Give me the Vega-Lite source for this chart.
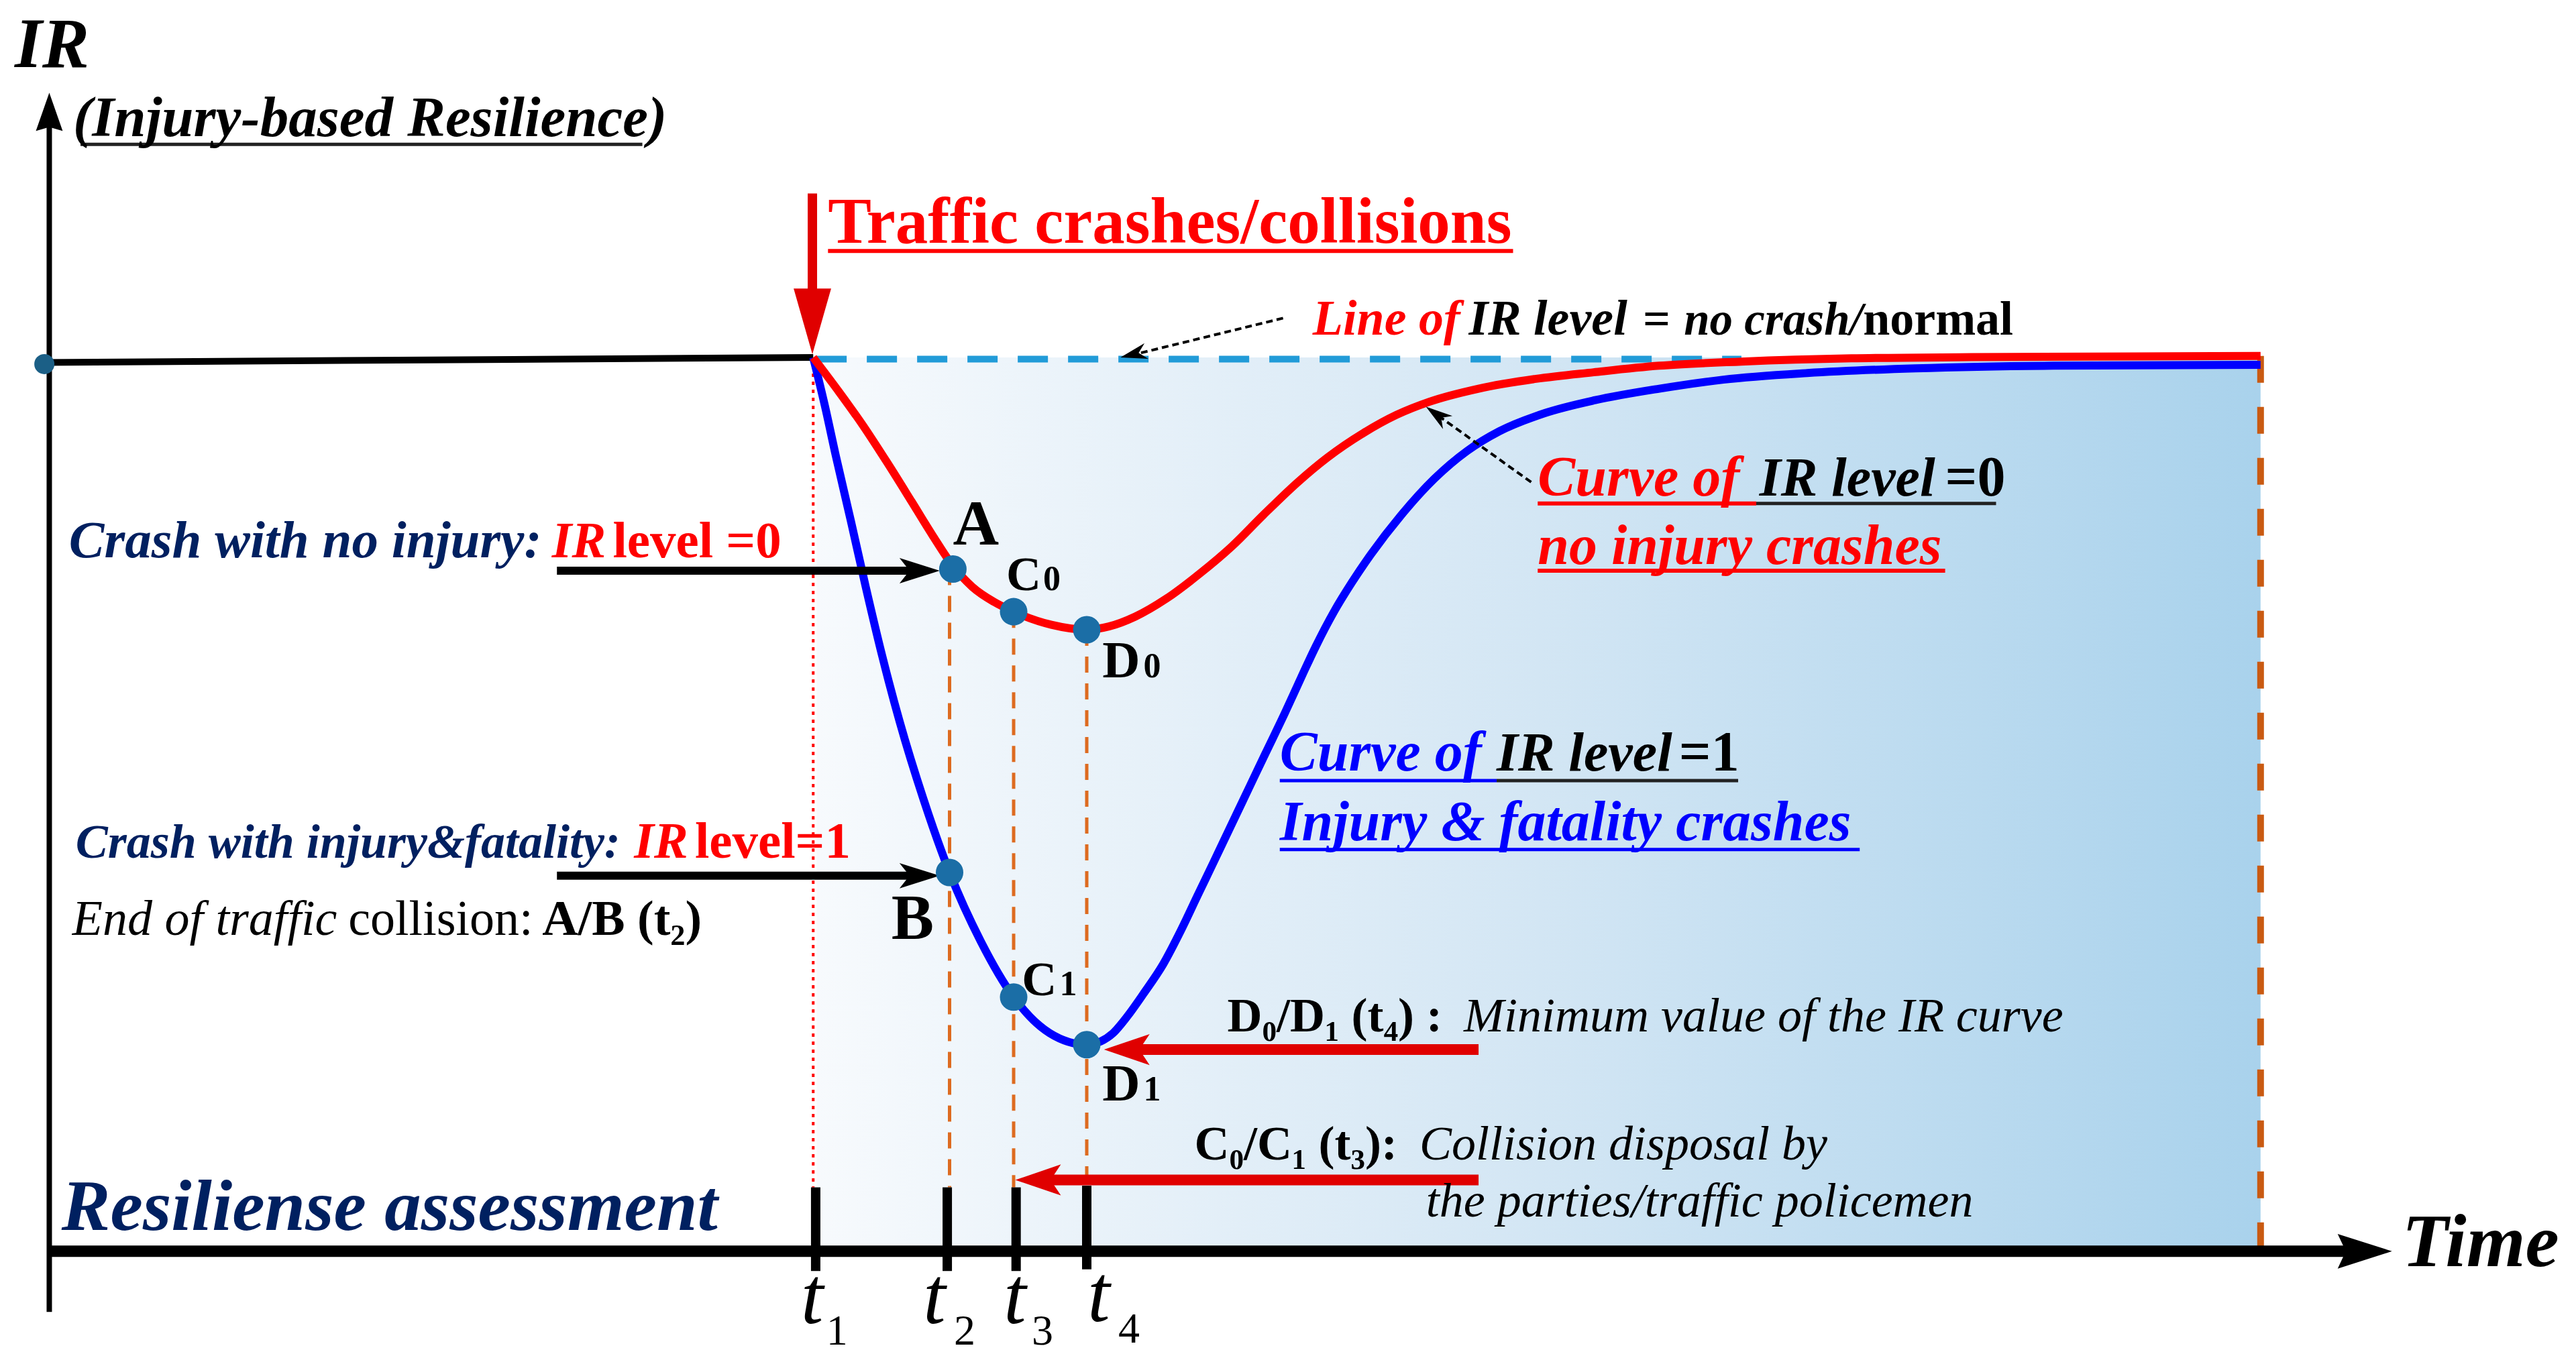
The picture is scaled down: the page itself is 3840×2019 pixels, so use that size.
{
  "$schema": "https://vega.github.io/schema/vega-lite/v6.json",
  "width": 3840,
  "height": 2019,
  "autosize": {"type": "fit", "contains": "padding"},
  "padding": 0,
  "background": "white",
  "config": {"view": {"stroke": null}},
  "encoding": {
    "x": {"field": "x", "type": "quantitative", "axis": null, "scale": {"domain": [0, 1568], "nice": false, "zero": false}},
    "y": {"field": "y", "type": "quantitative", "axis": null, "scale": {"domain": [0, 824], "nice": false, "zero": false, "reverse": true}}
  },
  "layer": [
    {"data": {"values": [{"x": 497, "x2": 1376, "y": 218, "y2": 763}]},
     "mark": {"type": "rect", "color": {"gradient": "linear", "x1": 0, "x2": 1, "y1": 0, "y2": 0, "stops": [{"offset": 0, "color": "#f7fafd"}, {"offset": 0.5, "color": "#d3e6f4"}, {"offset": 1, "color": "#a9d2ec"}]}},
     "encoding": {"x2": {"field": "x2"}, "y2": {"field": "y2"}}},
    {"data": {"values": [{"x": 497, "y": 219, "x2": 1060, "y2": 219}]},
     "mark": {"type": "rule", "color": "#219bd8", "strokeWidth": 10, "strokeDash": [45, 30]},
     "encoding": {"x2": {"field": "x2"}, "y2": {"field": "y2"}}},
    {"data": {"values": [{"x": 495, "y": 218, "x2": 495, "y2": 724}]},
     "mark": {"type": "rule", "color": "#ff0000", "strokeWidth": 4, "strokeDash": [5, 7]},
     "encoding": {"x2": {"field": "x2"}, "y2": {"field": "y2"}}},
    {"data": {"values": [{"x": 578, "y": 347, "x2": 578, "y2": 724}, {"x": 617, "y": 373, "x2": 617, "y2": 724}, {"x": 661.5, "y": 384, "x2": 661.5, "y2": 724}]},
     "mark": {"type": "rule", "color": "#dd6b20", "strokeWidth": 5, "strokeDash": [24, 16]},
     "encoding": {"x2": {"field": "x2"}, "y2": {"field": "y2"}}},
    {"data": {"values": [{"x": 1376, "y": 217, "x2": 1376, "y2": 763}]},
     "mark": {"type": "rule", "color": "#c95a12", "strokeWidth": 10, "strokeDash": [40, 36]},
     "encoding": {"x2": {"field": "x2"}, "y2": {"field": "y2"}}},
    {"data": {"values": [{"x": 27, "y": 221, "x2": 495, "y2": 218}]},
     "mark": {"type": "rule", "color": "#000000", "strokeWidth": 10},
     "encoding": {"x2": {"field": "x2"}, "y2": {"field": "y2"}}},
    {"data": {"values": [{"x": 30, "y": 800, "x2": 30, "y2": 75}]},
     "mark": {"type": "rule", "color": "#000000", "strokeWidth": 8},
     "encoding": {"x2": {"field": "x2"}, "y2": {"field": "y2"}}},
    {"data": {"values": [{"x": 30, "y": 763, "x2": 1440, "y2": 763}]},
     "mark": {"type": "rule", "color": "#000000", "strokeWidth": 17},
     "encoding": {"x2": {"field": "x2"}, "y2": {"field": "y2"}}},
    {"data": {"values": [{"x": 496.5, "y": 724, "x2": 496.5, "y2": 775}, {"x": 576.6, "y": 724, "x2": 576.6, "y2": 775}, {"x": 618.5, "y": 724, "x2": 618.5, "y2": 775}, {"x": 661.5, "y": 723, "x2": 661.5, "y2": 774}]},
     "mark": {"type": "rule", "color": "#000000", "strokeWidth": 14},
     "encoding": {"x2": {"field": "x2"}, "y2": {"field": "y2"}}},
    {"data": {"values": [
      {"x": 495, "y": 218}, {"x": 502, "y": 247}, {"x": 509, "y": 279}, {"x": 518, "y": 318}, {"x": 527, "y": 358}, {"x": 537, "y": 400}, {"x": 547.6, "y": 440}, {"x": 562, "y": 487}, {"x": 578, "y": 532}, {"x": 597, "y": 574}, {"x": 617, "y": 608}, {"x": 639, "y": 630}, {"x": 661.5, "y": 637}, {"x": 670, "y": 635}, {"x": 677.5, "y": 630}, {"x": 686, "y": 620}, {"x": 696, "y": 606}, {"x": 708, "y": 588}, {"x": 719, "y": 567}, {"x": 729, "y": 546}, {"x": 738.6, "y": 526}, {"x": 750, "y": 502}, {"x": 760, "y": 481}, {"x": 770, "y": 460}, {"x": 782, "y": 435}, {"x": 793, "y": 411}, {"x": 801, "y": 394}, {"x": 812, "y": 373}, {"x": 823, "y": 355}, {"x": 834.5, "y": 338}, {"x": 853, "y": 314}, {"x": 873, "y": 292}, {"x": 893, "y": 275}, {"x": 912.6, "y": 263}, {"x": 940, "y": 252}, {"x": 971, "y": 244}, {"x": 1010, "y": 237}, {"x": 1049, "y": 231.5}, {"x": 1100, "y": 227.5}, {"x": 1166, "y": 224.6}, {"x": 1250, "y": 223}, {"x": 1376, "y": 222.5}]},
     "mark": {"type": "line", "color": "#0000ff", "strokeWidth": 12, "interpolate": "monotone"}},
    {"data": {"values": [
      {"x": 495, "y": 218}, {"x": 510, "y": 238}, {"x": 525, "y": 259}, {"x": 540, "y": 282}, {"x": 555, "y": 306}, {"x": 568, "y": 327}, {"x": 580, "y": 345}, {"x": 592, "y": 358}, {"x": 605, "y": 367}, {"x": 617, "y": 373}, {"x": 640, "y": 381}, {"x": 661.5, "y": 384}, {"x": 675, "y": 382}, {"x": 691, "y": 376}, {"x": 710, "y": 365}, {"x": 730, "y": 350}, {"x": 750, "y": 333}, {"x": 769, "y": 314}, {"x": 790, "y": 294}, {"x": 808, "y": 279}, {"x": 830, "y": 264}, {"x": 850, "y": 253}, {"x": 870, "y": 245}, {"x": 900, "y": 237}, {"x": 935, "y": 231}, {"x": 970, "y": 227}, {"x": 1010, "y": 223}, {"x": 1060, "y": 220.5}, {"x": 1127, "y": 218.5}, {"x": 1200, "y": 217.8}, {"x": 1300, "y": 217.3}, {"x": 1376, "y": 217}]},
     "mark": {"type": "line", "color": "#ff0000", "strokeWidth": 12, "interpolate": "monotone"}},
    {"data": {"values": [{"x": 339, "y": 348, "x2": 562, "y2": 348}, {"x": 339, "y": 534, "x2": 562, "y2": 534}]},
     "mark": {"type": "rule", "color": "#000000", "strokeWidth": 12},
     "encoding": {"x2": {"field": "x2"}, "y2": {"field": "y2"}}},
    {"data": {"values": [{"x": 572, "y": 348}, {"x": 572, "y": 534}]},
     "mark": {"type": "point", "filled": true, "color": "#000000", "opacity": 1, "strokeWidth": 0, "size": 3600, "shape": "M 0 0 L -2 -0.63 L -1.5 0 L -2 0.63 Z"}},
    {"data": {"values": [{"x": 682, "y": 640, "x2": 900, "y2": 640}, {"x": 628, "y": 719.5, "x2": 900, "y2": 719.5}]},
     "mark": {"type": "rule", "color": "#e00000", "strokeWidth": 16},
     "encoding": {"x2": {"field": "x2"}, "y2": {"field": "y2"}}},
    {"data": {"values": [{"x": 672, "y": 640}, {"x": 618, "y": 719.5}]},
     "mark": {"type": "point", "filled": true, "color": "#e00000", "opacity": 1, "strokeWidth": 0, "size": 4624, "angle": 180, "shape": "M 0 0 L -2 -0.68 L -1.55 0 L -2 0.68 Z"}},
    {"data": {"values": [{"x": 494.5, "y": 118, "x2": 494.5, "y2": 185}]},
     "mark": {"type": "rule", "color": "#e00000", "strokeWidth": 14},
     "encoding": {"x2": {"field": "x2"}, "y2": {"field": "y2"}}},
    {"data": {"values": [{"x": 494.5, "y": 216}]},
     "mark": {"type": "point", "filled": true, "color": "#e00000", "opacity": 1, "strokeWidth": 0, "size": 9604, "angle": 90, "shape": "M 0 0 L -2 -0.57 L -2 0.57 Z"}},
    {"data": {"values": [{"x": 30, "y": 56.5}]},
     "mark": {"type": "point", "filled": true, "color": "#000000", "opacity": 1, "strokeWidth": 0, "size": 3249, "angle": 270, "shape": "M 0 0 L -2 -0.7 L -1.8 0 L -2 0.7 Z"}},
    {"data": {"values": [{"x": 1456, "y": 763}]},
     "mark": {"type": "point", "filled": true, "color": "#000000", "opacity": 1, "strokeWidth": 0, "size": 6561, "angle": 0, "shape": "M 0 0 L -2 -0.64 L -1.7 0 L -2 0.64 Z"}},
    {"data": {"values": [{"x": 781, "y": 194, "x2": 687, "y2": 217}, {"x": 932, "y": 294, "x2": 872, "y2": 251}]},
     "mark": {"type": "rule", "color": "#000000", "strokeWidth": 4, "strokeDash": [10, 6]},
     "encoding": {"x2": {"field": "x2"}, "y2": {"field": "y2"}}},
    {"data": {"values": [{"x": 682, "y": 218}]},
     "mark": {"type": "point", "filled": true, "color": "#000000", "opacity": 1, "strokeWidth": 0, "size": 1600, "angle": 166, "shape": "M 0 0 L -2 -0.6 L -1.4 0 L -2 0.6 Z"}},
    {"data": {"values": [{"x": 868, "y": 248}]},
     "mark": {"type": "point", "filled": true, "color": "#000000", "opacity": 1, "strokeWidth": 0, "size": 1600, "angle": 216, "shape": "M 0 0 L -2 -0.6 L -1.4 0 L -2 0.6 Z"}},
    {"data": {"values": [{"x": 580, "y": 347}, {"x": 617, "y": 373}, {"x": 661.5, "y": 384}, {"x": 578, "y": 532}, {"x": 617, "y": 608}, {"x": 661.5, "y": 637}]},
     "mark": {"type": "point", "filled": true, "color": "#1b6ea6", "opacity": 1, "strokeWidth": 0, "size": 1681, "shape": "circle"}},
    {"data": {"values": [{"x": 27, "y": 222}]},
     "mark": {"type": "point", "filled": true, "color": "#1b5f86", "opacity": 1, "strokeWidth": 0, "size": 900, "shape": "circle"}},
    {"data": {"values": [{"x": 49, "y": 88, "x2": 391, "y2": 88}, {"x": 1069, "y": 307, "x2": 1215, "y2": 307}, {"x": 911, "y": 476, "x2": 1058, "y2": 476}]},
     "mark": {"type": "rule", "color": "#222222", "strokeWidth": 5},
     "encoding": {"x2": {"field": "x2"}, "y2": {"field": "y2"}}},
    {"data": {"values": [{"x": 504, "y": 153, "x2": 921, "y2": 153}, {"x": 936, "y": 307, "x2": 1069, "y2": 307}, {"x": 936, "y": 348, "x2": 1184, "y2": 348}]},
     "mark": {"type": "rule", "color": "#ff0000", "strokeWidth": 6},
     "encoding": {"x2": {"field": "x2"}, "y2": {"field": "y2"}}},
    {"data": {"values": [{"x": 779, "y": 476, "x2": 911, "y2": 476}, {"x": 779, "y": 518, "x2": 1132, "y2": 518}]},
     "mark": {"type": "rule", "color": "#0000ff", "strokeWidth": 5},
     "encoding": {"x2": {"field": "x2"}, "y2": {"field": "y2"}}},
    {"data": {"values": [{"x": 9, "y": 41, "t": "IR"}]},
     "mark": {"type": "text", "font": "Liberation Serif", "fontWeight": "bold", "fontStyle": "italic", "fontSize": 105, "color": "#000000", "align": "left", "baseline": "alphabetic"},
     "encoding": {"text": {"field": "t"}}},
    {"data": {"values": [{"x": 44.5, "y": 83, "t": "(Injury-based Resilience)"}]},
     "mark": {"type": "text", "font": "Liberation Serif", "fontWeight": "bold", "fontStyle": "italic", "fontSize": 85, "color": "#000000", "align": "left", "baseline": "alphabetic"},
     "encoding": {"text": {"field": "t"}}},
    {"data": {"values": [{"x": 504, "y": 148, "t": "Traffic crashes/collisions"}]},
     "mark": {"type": "text", "font": "Liberation Serif", "fontWeight": "bold", "fontSize": 97, "color": "#ff0000", "align": "left", "baseline": "alphabetic"},
     "encoding": {"text": {"field": "t"}}},
    {"data": {"values": [{"x": 580, "y": 332, "t": "A"}, {"x": 542.6, "y": 572.5, "t": "B"}]},
     "mark": {"type": "text", "font": "Liberation Serif", "fontWeight": "bold", "fontSize": 95, "color": "#000000", "align": "left", "baseline": "alphabetic"},
     "encoding": {"text": {"field": "t"}}},
    {"data": {"values": [{"x": 799, "y": 204, "t": "Line of"}]},
     "mark": {"type": "text", "font": "Liberation Serif", "fontWeight": "bold", "fontStyle": "italic", "fontSize": 74, "color": "#ff0000", "align": "left", "baseline": "alphabetic"},
     "encoding": {"text": {"field": "t"}}},
    {"data": {"values": [{"x": 894, "y": 204, "t": "IR level"}]},
     "mark": {"type": "text", "font": "Liberation Serif", "fontWeight": "bold", "fontStyle": "italic", "fontSize": 74, "color": "#000000", "align": "left", "baseline": "alphabetic"},
     "encoding": {"text": {"field": "t"}}},
    {"data": {"values": [{"x": 1025, "y": 204, "t": "no crash/"}]},
     "mark": {"type": "text", "font": "Liberation Serif", "fontWeight": "bold", "fontStyle": "italic", "fontSize": 69, "color": "#000000", "align": "left", "baseline": "alphabetic"},
     "encoding": {"text": {"field": "t"}}},
    {"data": {"values": [{"x": 1000, "y": 204, "t": "="}, {"x": 1134, "y": 204, "t": "normal"}, {"x": 747, "y": 629, "t": "D₀/D₁ (t₄) :"}, {"x": 727, "y": 707, "t": "C₀/C₁ (t₃):"}]},
     "mark": {"type": "text", "font": "Liberation Serif", "fontWeight": "bold", "fontSize": 72, "color": "#000000", "align": "left", "baseline": "alphabetic"},
     "encoding": {"text": {"field": "t"}}},
    {"data": {"values": [{"x": 936, "y": 302, "t": "Curve of"}, {"x": 936, "y": 344, "t": "no injury crashes"}]},
     "mark": {"type": "text", "font": "Liberation Serif", "fontWeight": "bold", "fontStyle": "italic", "fontSize": 84, "color": "#ff0000", "align": "left", "baseline": "alphabetic"},
     "encoding": {"text": {"field": "t"}}},
    {"data": {"values": [{"x": 779, "y": 470, "t": "Curve of"}, {"x": 779, "y": 512.5, "t": "Injury & fatality crashes"}]},
     "mark": {"type": "text", "font": "Liberation Serif", "fontWeight": "bold", "fontStyle": "italic", "fontSize": 84, "color": "#0000ff", "align": "left", "baseline": "alphabetic"},
     "encoding": {"text": {"field": "t"}}},
    {"data": {"values": [{"x": 1071, "y": 302, "t": "IR level"}, {"x": 911, "y": 470, "t": "IR level"}]},
     "mark": {"type": "text", "font": "Liberation Serif", "fontWeight": "bold", "fontStyle": "italic", "fontSize": 82, "color": "#000000", "align": "left", "baseline": "alphabetic"},
     "encoding": {"text": {"field": "t"}}},
    {"data": {"values": [{"x": 1184, "y": 302, "t": "=0"}, {"x": 1022, "y": 470, "t": "=1"}]},
     "mark": {"type": "text", "font": "Liberation Serif", "fontWeight": "bold", "fontSize": 84, "color": "#000000", "align": "left", "baseline": "alphabetic"},
     "encoding": {"text": {"field": "t"}}},
    {"data": {"values": [{"x": 42, "y": 340, "t": "Crash with no injury:"}]},
     "mark": {"type": "text", "font": "Liberation Serif", "fontWeight": "bold", "fontStyle": "italic", "fontSize": 79, "color": "#002060", "align": "left", "baseline": "alphabetic"},
     "encoding": {"text": {"field": "t"}}},
    {"data": {"values": [{"x": 46, "y": 523, "t": "Crash with injury&fatality:"}]},
     "mark": {"type": "text", "font": "Liberation Serif", "fontWeight": "bold", "fontStyle": "italic", "fontSize": 72, "color": "#002060", "align": "left", "baseline": "alphabetic"},
     "encoding": {"text": {"field": "t"}}},
    {"data": {"values": [{"x": 336, "y": 340, "t": "IR"}, {"x": 386, "y": 523, "t": "IR"}]},
     "mark": {"type": "text", "font": "Liberation Serif", "fontWeight": "bold", "fontStyle": "italic", "fontSize": 76, "color": "#ff0000", "align": "left", "baseline": "alphabetic"},
     "encoding": {"text": {"field": "t"}}},
    {"data": {"values": [{"x": 373, "y": 340, "t": "level =0"}, {"x": 423, "y": 523, "t": "level=1"}]},
     "mark": {"type": "text", "font": "Liberation Serif", "fontWeight": "bold", "fontSize": 77, "color": "#ff0000", "align": "left", "baseline": "alphabetic"},
     "encoding": {"text": {"field": "t"}}},
    {"data": {"values": [{"x": 44, "y": 570, "t": "End of traffic"}]},
     "mark": {"type": "text", "font": "Liberation Serif", "fontStyle": "italic", "fontSize": 74, "color": "#000000", "align": "left", "baseline": "alphabetic"},
     "encoding": {"text": {"field": "t"}}},
    {"data": {"values": [{"x": 212, "y": 570, "t": "collision:"}]},
     "mark": {"type": "text", "font": "Liberation Serif", "fontSize": 74, "color": "#000000", "align": "left", "baseline": "alphabetic"},
     "encoding": {"text": {"field": "t"}}},
    {"data": {"values": [{"x": 330, "y": 570, "t": "A/B (t₂)"}]},
     "mark": {"type": "text", "font": "Liberation Serif", "fontWeight": "bold", "fontSize": 74, "color": "#000000", "align": "left", "baseline": "alphabetic"},
     "encoding": {"text": {"field": "t"}}},
    {"data": {"values": [{"x": 891, "y": 629, "t": "Minimum value of the IR curve"}, {"x": 864, "y": 707, "t": "Collision disposal by"}, {"x": 868, "y": 742, "t": "the parties/traffic policemen"}]},
     "mark": {"type": "text", "font": "Liberation Serif", "fontStyle": "italic", "fontSize": 72, "color": "#000000", "align": "left", "baseline": "alphabetic"},
     "encoding": {"text": {"field": "t"}}},
    {"data": {"values": [{"x": 37.5, "y": 750, "t": "Resiliense assessment"}]},
     "mark": {"type": "text", "font": "Liberation Serif", "fontWeight": "bold", "fontStyle": "italic", "fontSize": 109, "color": "#002060", "align": "left", "baseline": "alphabetic"},
     "encoding": {"text": {"field": "t"}}},
    {"data": {"values": [{"x": 1462, "y": 772, "t": "Time"}]},
     "mark": {"type": "text", "font": "Liberation Serif", "fontWeight": "bold", "fontStyle": "italic", "fontSize": 113, "color": "#000000", "align": "left", "baseline": "alphabetic"},
     "encoding": {"text": {"field": "t"}}},
    {"data": {"values": [{"x": 612.5, "y": 360, "t": "C"}, {"x": 622, "y": 607, "t": "C"}]},
     "mark": {"type": "text", "font": "Liberation Serif", "fontWeight": "bold", "fontSize": 72, "color": "#000000", "align": "left", "baseline": "alphabetic"},
     "encoding": {"text": {"field": "t"}}},
    {"data": {"values": [{"x": 671, "y": 413, "t": "D"}, {"x": 671, "y": 671, "t": "D"}]},
     "mark": {"type": "text", "font": "Liberation Serif", "fontWeight": "bold", "fontSize": 78, "color": "#000000", "align": "left", "baseline": "alphabetic"},
     "encoding": {"text": {"field": "t"}}},
    {"data": {"values": [{"x": 635, "y": 360, "t": "0"}, {"x": 696, "y": 413, "t": "0"}, {"x": 645, "y": 607, "t": "1"}, {"x": 696, "y": 671, "t": "1"}]},
     "mark": {"type": "text", "font": "Liberation Serif", "fontWeight": "bold", "fontSize": 52, "color": "#000000", "align": "left", "baseline": "alphabetic"},
     "encoding": {"text": {"field": "t"}}},
    {"data": {"values": [{"x": 487.5, "y": 807, "t": "t"}, {"x": 562, "y": 807, "t": "t"}, {"x": 611, "y": 807, "t": "t"}, {"x": 662, "y": 805.5, "t": "t"}]},
     "mark": {"type": "text", "font": "Liberation Serif", "fontStyle": "italic", "fontSize": 120, "color": "#000000", "align": "left", "baseline": "alphabetic"},
     "encoding": {"text": {"field": "t"}}},
    {"data": {"values": [{"x": 503, "y": 820, "t": "1"}, {"x": 580.6, "y": 820, "t": "2"}, {"x": 628, "y": 820, "t": "3"}, {"x": 680.7, "y": 818.6, "t": "4"}]},
     "mark": {"type": "text", "font": "Liberation Serif", "fontSize": 64, "color": "#000000", "align": "left", "baseline": "alphabetic"},
     "encoding": {"text": {"field": "t"}}}
  ]
}
